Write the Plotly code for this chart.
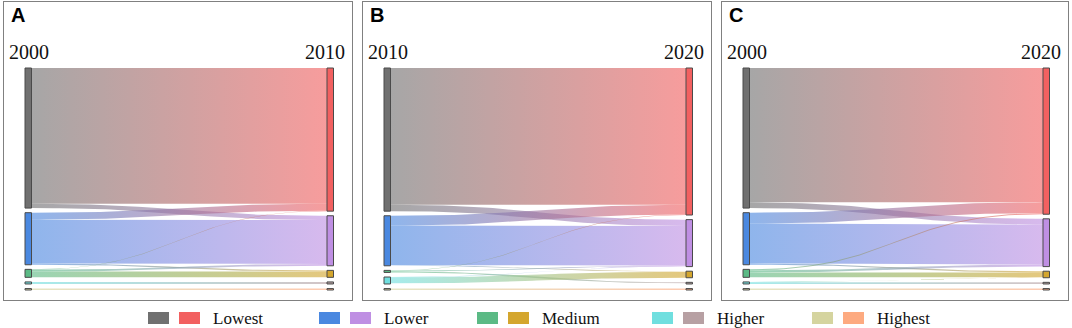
import numpy as np
import plotly.graph_objects as go

# ---------------- data ----------------
classes = ["Lowest", "Lower", "Medium", "Higher", "Highest"]
panel_letters = ["A", "B", "C"]
year_pairs = [("2000", "2010"), ("2010", "2020"), ("2000", "2020")]

# flow matrices (share of area, %), rows = source class, cols = target class
flows_A = [[66.5, 2.1, 0.0, 0.0, 0.0],
           [3.4, 21.5, 0.6, 0.0, 0.0],
           [0.2, 0.9, 2.8, 0.0, 0.0],
           [0.0, 0.0, 0.0, 1.0, 0.0],
           [0.0, 0.0, 0.0, 0.0, 0.7]]
flows_B = [[67.0, 3.1, 0.0, 0.0, 0.0],
           [4.8, 19.4, 0.3, 0.0, 0.0],
           [0.2, 0.3, 0.0, 0.5, 0.0],
           [0.0, 0.2, 2.9, 0.3, 0.0],
           [0.0, 0.0, 0.0, 0.0, 0.7]]
flows_C = [[65.8, 2.8, 0.0, 0.0, 0.0],
           [5.3, 19.6, 0.6, 0.0, 0.0],
           [0.5, 1.0, 2.4, 0.0, 0.0],
           [0.0, 0.0, 0.2, 0.8, 0.0],
           [0.0, 0.0, 0.0, 0.0, 0.7]]
all_flows = [flows_A, flows_B, flows_C]

left_colors = ["#707070", "#4A88E0", "#5BBA85", "#70DFDF", "#D5D49F"]
right_colors = ["#F26060", "#BF8FE3", "#D4A62E", "#B7A0A3", "#FDAA80"]

# ---------------- layout constants ----------------
W, H = 1072, 328
panel_px = [(4, 352), (363, 711), (722, 1068)]
panel_top, panel_bot = 2, 300
node_top = 66          # relative to panel top
node_span = 222
node_pad = 4.6
node_w = 6.5
node_left = 21
node_right_off = 25
link_opacity = 0.62

fig = go.Figure()


def bez(a, b, c, d, t):
    return (1 - t) ** 3 * a + 3 * (1 - t) ** 2 * t * b + 3 * (1 - t) * t ** 2 * c + t ** 3 * d


t = np.linspace(0, 1, 60)

for p, flows in enumerate(all_flows):
    F = np.array(flows, dtype=float)
    ax = "" if p == 0 else str(p + 1)
    xa, ya = "x" + ax, "y" + ax
    x0p, x1p = panel_px[p]
    pw = x1p - x0p
    n = len(classes)
    out_tot = F.sum(axis=1)
    in_tot = F.sum(axis=0)
    ky = min((node_span - (n - 1) * node_pad) / out_tot.sum(),
             (node_span - (n - 1) * node_pad) / in_tot.sum())
    # node positions
    ly0, ry0 = [], []
    y = node_top
    for i in range(n):
        ly0.append(y)
        y += out_tot[i] * ky + node_pad
    y = node_top
    for j in range(n):
        ry0.append(y)
        y += in_tot[j] * ky + node_pad
    lx = node_left
    rx = pw - node_right_off
    # links
    src_off = list(ly0)
    tgt_off = list(ry0)
    link_src = {}
    for i in range(n):
        for j in range(n):
            if F[i, j] > 0:
                link_src[(i, j)] = src_off[i]
                src_off[i] += F[i, j] * ky
    link_tgt = {}
    for j in range(n):
        for i in range(n):
            if F[i, j] > 0:
                link_tgt[(i, j)] = tgt_off[j]
                tgt_off[j] += F[i, j] * ky
    xa0, xa1 = lx + node_w, rx
    xm = (xa0 + xa1) / 2
    xs = bez(xa0, xm, xm, xa1, t)
    for (i, j), s0 in link_src.items():
        w = F[i, j] * ky
        t0 = link_tgt[(i, j)]
        ytop = bez(s0, s0, t0, t0, t)
        ybot = bez(s0 + w, s0 + w, t0 + w, t0 + w, t)
        px = np.concatenate([xs, xs[::-1], xs[:1]])
        py = np.concatenate([ytop, ybot[::-1], ytop[:1]])
        fig.add_trace(go.Scatter(
            x=px, y=py, mode="lines", fill="toself",
            fillgradient=dict(type="horizontal",
                              colorscale=[[0, left_colors[i]], [1, right_colors[j]]]),
            line=dict(width=0), opacity=link_opacity,
            hoverinfo="skip", showlegend=False, xaxis=xa, yaxis=ya))
    # nodes
    for i in range(n):
        for (nx, ny, hgt, col) in [(lx, ly0[i], out_tot[i] * ky, left_colors[i]),
                                   (rx, ry0[i], in_tot[i] * ky, right_colors[i])]:
            fig.add_trace(go.Scatter(
                x=[nx, nx + node_w, nx + node_w, nx, nx],
                y=[ny, ny, ny + hgt, ny + hgt, ny],
                mode="lines", fill="toself", fillcolor=col,
                line=dict(width=1, color="#4a4a4a"),
                hoverinfo="skip", showlegend=False, xaxis=xa, yaxis=ya))
    # axes
    axis_common = dict(showline=True, mirror=True, linecolor="#808080", linewidth=1,
                       showgrid=False, zeroline=False, showticklabels=False, ticks="",
                       fixedrange=True)
    fig.update_layout(**{
        ("xaxis" + ax): dict(domain=[x0p / W, x1p / W], range=[0, pw], anchor=ya, **axis_common),
        ("yaxis" + ax): dict(domain=[1 - panel_bot / H, 1 - panel_top / H],
                             range=[panel_bot - panel_top, 0], anchor=xa, **axis_common),
    })
    # year labels
    for txt, xx in [(year_pairs[p][0], lx + node_w / 2 + 1), (year_pairs[p][1], rx - 2.5)]:
        fig.add_annotation(x=xx, y=50, xref=xa, yref=ya, text=txt, showarrow=False,
                           font=dict(family="Liberation Serif", size=20, color="#111"),
                           xanchor="center", yanchor="middle")
    # panel letter
    fig.add_annotation(x=(x0p + 5) / W, y=1 - 15 / H, xref="paper", yref="paper",
                       text="<b>%s</b>" % panel_letters[p], showarrow=False,
                       font=dict(family="Liberation Sans", size=20, color="#000"),
                       xanchor="left", yanchor="middle")

# ---------------- legend ----------------
legend_x = [148, 319, 477, 652, 812]
sq_w, sq_h, sq_gap = 21, 12, 10
leg_y = 318
for k, cname in enumerate(classes):
    x = legend_x[k]
    for m, col in enumerate([left_colors[k], right_colors[k]]):
        xx = x + m * (sq_w + sq_gap)
        fig.add_shape(type="rect", xref="paper", yref="paper",
                      x0=xx / W, x1=(xx + sq_w) / W,
                      y0=1 - (leg_y + sq_h / 2) / H, y1=1 - (leg_y - sq_h / 2) / H,
                      fillcolor=col, line=dict(width=0))
    fig.add_annotation(x=(x + 2 * sq_w + sq_gap + 11) / W, y=1 - leg_y / H,
                       xref="paper", yref="paper", text=cname, showarrow=False,
                       font=dict(family="Liberation Serif", size=17, color="#111"),
                       xanchor="left", yanchor="middle")

fig.update_layout(width=W, height=H, margin=dict(l=0, r=0, t=0, b=0),
                  paper_bgcolor="white", plot_bgcolor="white", showlegend=False)
fig.write_html("out.html", config={"displayModeBar": False},
               post_script="document.body.style.margin='0';document.body.style.overflow='hidden';")
